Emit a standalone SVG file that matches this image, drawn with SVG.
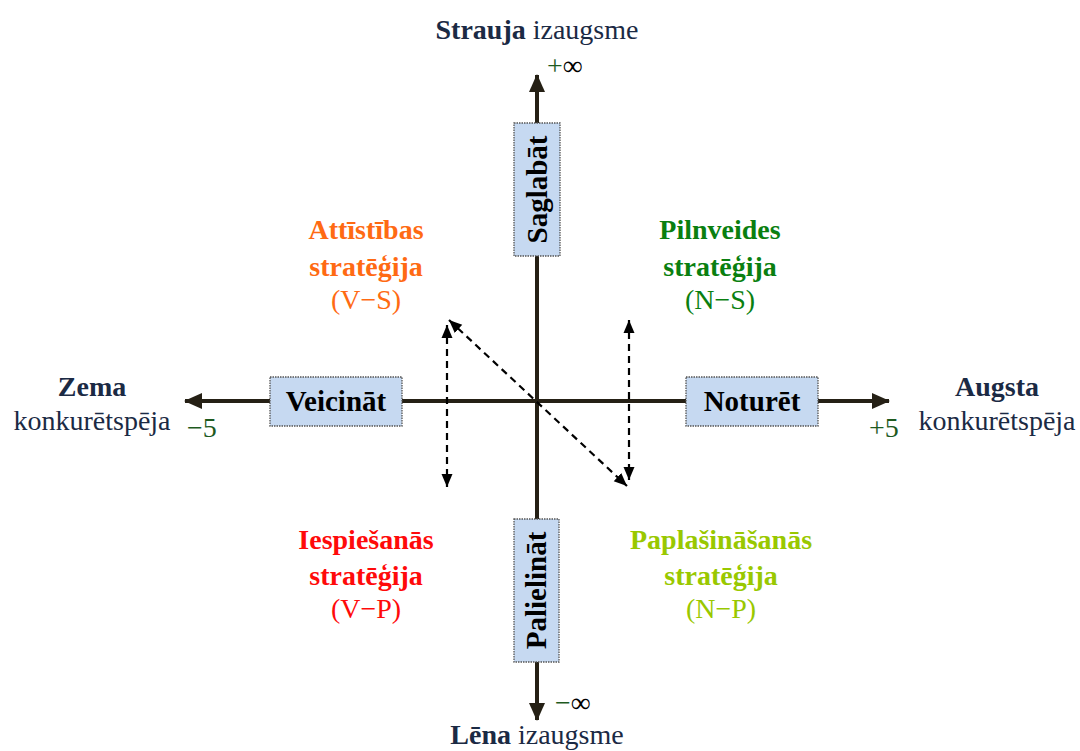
<svg xmlns="http://www.w3.org/2000/svg" width="1080" height="751" viewBox="0 0 1080 751">
<style>
text{font-family:"Liberation Serif","Times New Roman",serif;font-size:28px}
.b{font-weight:bold}
.nav{fill:#1b2a44}
.gn{fill:#1e5a1e}
.box{fill:#c6d9f1;stroke:#555;stroke-width:1.3;stroke-dasharray:1.5 1}
.bt{font-weight:bold;fill:#000;text-anchor:middle;font-size:29px}
.ax{stroke:#252015;stroke-width:4;fill:none}
.ds{stroke:#000;stroke-width:2.2;stroke-dasharray:7 5;fill:none}
.c{text-anchor:middle}
</style>
<defs>
<marker id="dh" markerWidth="13" markerHeight="12" refX="13" refY="6" orient="auto-start-reverse" markerUnits="userSpaceOnUse" viewBox="0 0 13 12">
<path d="M0,0.5 L13,6 L0,11.5 Z" fill="#000"/>
</marker>
<marker id="axh" markerWidth="18" markerHeight="16" refX="17" refY="8" orient="auto" markerUnits="userSpaceOnUse" viewBox="0 0 18 16">
<path d="M0,0 L18,8 L0,16 Z" fill="#252015"/>
</marker>
</defs>
<g id="connectors">
<line class="ax" x1="537" y1="712" x2="537" y2="75" marker-end="url(#axh)"/>
<line class="ax" x1="537" y1="85" x2="537" y2="720" marker-end="url(#axh)"/>
<line class="ax" x1="880" y1="401" x2="185" y2="401" marker-end="url(#axh)"/>
<line class="ax" x1="190" y1="401" x2="889" y2="401" marker-end="url(#axh)"/>
<line class="ds" x1="447" y1="325" x2="447" y2="487" marker-start="url(#dh)" marker-end="url(#dh)"/>
<line class="ds" x1="449" y1="320" x2="627" y2="486" marker-start="url(#dh)" marker-end="url(#dh)"/>
<line class="ds" x1="629" y1="320" x2="629" y2="480" marker-start="url(#dh)" marker-end="url(#dh)"/>
</g>
<g id="node-saglabat">
<rect class="box" x="514" y="123" width="46" height="133"/>
<text class="bt" transform="translate(547,189.5) rotate(-90)">Saglabāt</text>
</g>
<g id="node-palielinat">
<rect class="box" x="514" y="519" width="45" height="143"/>
<text class="bt" transform="translate(546,590.5) rotate(-90)">Palielināt</text>
</g>
<g id="node-veicinat">
<rect class="box" x="270" y="377" width="132" height="49"/>
<text class="bt" x="336" y="411">Veicināt</text>
</g>
<g id="node-noturet">
<rect class="box" x="686" y="377" width="132" height="49"/>
<text class="bt" x="752" y="411">Noturēt</text>
</g>
<g id="labels">
<text class="c nav" x="537" y="39"><tspan class="b">Strauja</tspan> izaugsme</text>
<text x="547" y="75"><tspan class="gn">+</tspan>∞</text>
<text class="c nav" x="537" y="744"><tspan class="b">Lēna</tspan> izaugsme</text>
<text x="555" y="712"><tspan class="gn">−</tspan>∞</text>
<text class="c nav b" x="92" y="396">Zema</text>
<text class="c nav" x="92" y="430">konkurētspēja</text>
<text class="gn" x="187" y="437">−5</text>
<text class="c nav b" x="997" y="396">Augsta</text>
<text class="c nav" x="997" y="430">konkurētspēja</text>
<text class="gn" x="869" y="437">+5</text>
</g>
<g id="node-vs" fill="#ff6a13">
<text class="c b" x="366" y="239">Attīstības</text>
<text class="c b" x="366" y="276">stratēģija</text>
<text class="c" x="366" y="309">(V−S)</text>
</g>
<g id="node-ns" fill="#0a7f10">
<text class="c b" x="720" y="239">Pilnveides</text>
<text class="c b" x="720" y="276">stratēģija</text>
<text class="c" x="720" y="309">(N−S)</text>
</g>
<g id="node-vp" fill="#ff0a0a">
<text class="c b" x="366" y="549">Iespiešanās</text>
<text class="c b" x="366" y="585">stratēģija</text>
<text class="c" x="366" y="618">(V−P)</text>
</g>
<g id="node-np" fill="#99c800">
<text class="c b" x="721" y="549">Paplašināšanās</text>
<text class="c b" x="721" y="585">stratēģija</text>
<text class="c" x="721" y="618">(N−P)</text>
</g>
</svg>
